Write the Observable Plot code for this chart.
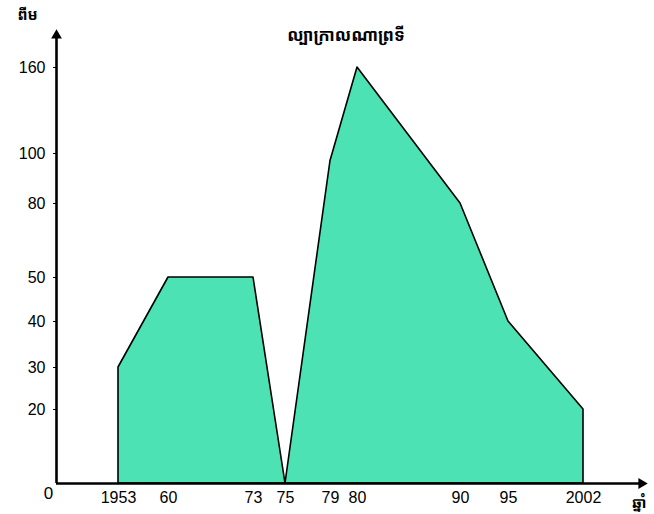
<!DOCTYPE html>
<html>
<head>
<meta charset="utf-8">
<script src="https://cdn.jsdelivr.net/npm/d3@7"></script>
<script src="https://cdn.jsdelivr.net/npm/@observablehq/plot@0.6"></script>
<style>
  html, body { margin: 0; padding: 0; background: #fff; }
  #chart svg { display: block; }
</style>
</head>
<body>
<div id="chart"></div>
<script>
// ---- data ----
const years = [1953, 1960, 1973, 1975, 1979, 1980, 1990, 1995, 2002];
const values = [30, 50, 50, 0, 97, 160, 80, 40, 20];
const xTickLabels = ["1953", "60", "73", "75", "79", "80", "90", "95", "2002"];
const yTicks = [20, 30, 40, 50, 80, 100, 160];
const originLabel = ["0"];
const titleText = ["ល្បាក្រាលណាព្រទី"];
const yLabel = ["ពីម"];
const xLabel = ["ឆ្នាំ"];
const xStart = 1946, xEnd = 2009;   // axis extent (origin / arrow tip)
const yEnd = 185;                    // y-axis arrow tip

// The reference axes are not evenly spaced: piecewise warps onto axis units
const xWarp = d3.scaleLinear()
  .domain([xStart, 1953, 1960, 1973, 1975, 1979, 1980, 1990, 1995, 2002, xEnd])
  .range([0, 62, 112, 197, 229, 274, 301, 404, 452, 527, 587]);
const yWarp = d3.scaleLinear()
  .domain([0, 20, 30, 40, 50, 80, 100, 160, yEnd])
  .range([0, 74, 116, 162, 206, 280, 330, 416, 450]);

const data = years.map((year, i) => ({year, value: values[i]}));
const xLabelAt = new Map(years.map((y, i) => [xWarp(y), xTickLabels[i]]));
const yLabelAt = new Map(yTicks.map(v => [yWarp(v), String(v)]));

const khmerFont = "'Noto Sans Khmer', 'Khmer OS', 'Noto Sans', 'DejaVu Sans', sans-serif";

const chart = Plot.plot({
  width: 654,
  height: 514,
  marginLeft: 56,
  marginRight: 11,
  marginTop: 33,
  marginBottom: 31,
  style: {fontFamily: "'Liberation Sans', Arial, sans-serif", fontSize: "16px", background: "#fff", overflow: "visible"},
  x: {
    domain: [xWarp(xStart), xWarp(xEnd)],
    ticks: years.map(xWarp),
    tickFormat: d => xLabelAt.get(d),
    tickSize: 0,
    tickPadding: 8,
    label: null
  },
  y: {
    domain: [yWarp(0), yWarp(yEnd)],
    ticks: yTicks.map(yWarp),
    tickFormat: d => yLabelAt.get(d),
    tickSize: 3,
    tickPadding: 8,
    label: null
  },
  marks: [
    Plot.areaY(data, {x: d => xWarp(d.year), y: d => yWarp(d.value), fill: "#4ce2b4", stroke: "#000", strokeWidth: 1.6, curve: "linear"}),
    Plot.ruleX([xStart], {x: d => xWarp(d), y1: yWarp(0), y2: yWarp(yEnd) - 4, stroke: "#000", strokeWidth: 2.6}),
    Plot.ruleY([0], {y: d => yWarp(d), x1: xWarp(xStart), x2: xWarp(xEnd) - 4, stroke: "#000", strokeWidth: 2.6}),
    Plot.dot([yEnd], {x: () => xWarp(xStart), y: d => yWarp(d), symbol: "triangle", r: 4, fill: "#000", stroke: null, dy: 2}),
    Plot.dot([xEnd], {x: d => xWarp(d), y: () => yWarp(0), symbol: "triangle", r: 4, fill: "#000", stroke: null, rotate: 90, dx: -2}),
    Plot.text(originLabel, {x: () => xWarp(xStart), y: () => yWarp(0), text: d => d, dx: -8, dy: 10, fontSize: 17}),
    Plot.text(titleText, {frameAnchor: "top", text: d => d, dx: -4, dy: -5, fontSize: 17, fontWeight: "bold", fontFamily: khmerFont}),
    Plot.text(yLabel, {frameAnchor: "top-left", text: d => d, dx: -39, dy: -24, fontSize: 15, fontWeight: "bold", fontFamily: khmerFont}),
    Plot.text(xLabel, {frameAnchor: "bottom-right", text: d => d, dx: 3, dy: 24, fontSize: 15, fontWeight: "bold", fontFamily: khmerFont})
  ]
});

document.getElementById("chart").appendChild(chart);
</script>
</body>
</html>
